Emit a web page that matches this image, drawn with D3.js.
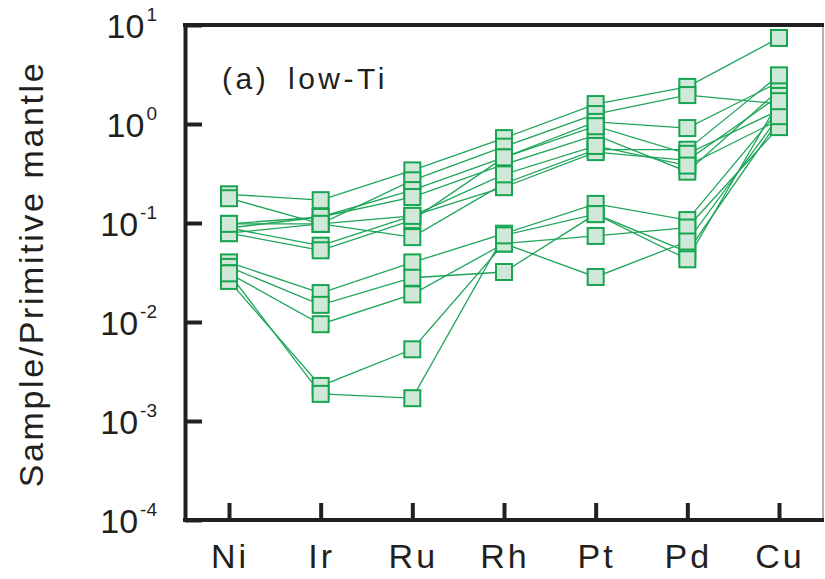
<!DOCTYPE html>
<html>
<head>
<meta charset="utf-8">
<script src="https://cdn.jsdelivr.net/npm/d3@7"></script>
<style>
  html, body { margin: 0; padding: 0; background: #fff; }
  svg { display: block; font-family: "Liberation Sans", Arial, sans-serif; }
</style>
</head>
<body>
<svg id="chart" width="825" height="579"></svg>
<script>
// Chalcophile element order (x axis)
const elements = ["Ni", "Ir", "Ru", "Rh", "Pt", "Pd", "Cu"];

// Primitive-mantle-normalised values, one array per low-Ti sample
const sample01 = [0.195, 0.17, 0.34, 0.72, 1.59, 2.37, 7.4];
const sample02 = [0.178, 0.098, 0.27, 0.59, 1.26, 1.96, 1.6];
const sample03 = [0.089, 0.115, 0.215, 0.46, 1.05, 0.91, 2.65];
const sample04 = [0.098, 0.115, 0.183, 0.39, 0.77, 0.33, 2.2];
const sample05 = [0.079, 0.098, 0.072, 0.25, 0.55, 0.55, 3.1];
const sample06 = [0.089, 0.059, 0.118, 0.23, 0.52, 0.43, 1.92];
const sample07 = [0.079, 0.053, 0.107, 0.46, 0.95, 0.5, 1.38];
const sample08 = [0.098, 0.098, 0.118, 0.31, 0.6, 0.38, 1.1];
const sample09 = [0.040, 0.0196, 0.040, 0.078, 0.156, 0.107, 1.38];
const sample10 = [0.036, 0.0149, 0.028, 0.032, 0.123, 0.051, 1.1];
const sample11 = [0.031, 0.0095, 0.019, 0.062, 0.074, 0.090, 0.93];
const sample12 = [0.026, 0.00226, 0.0053, 0.062, 0.0285, 0.065, 1.2];
const sample13 = [0.031, 0.00188, 0.0017, 0.075, 0.123, 0.043, 1.7];

const samples = [sample01, sample02, sample03, sample04, sample05, sample06, sample07,
                 sample08, sample09, sample10, sample11, sample12, sample13];

// Decade ticks on the log axis
const tickValues = [1e-4, 1e-3, 1e-2, 1e-1, 1, 10];
const tickExponents = ["-4", "-3", "-2", "-1", "0", "1"];

const panelLabel = "(a) low-Ti";
const yTitle = "Sample/Primitive mantle";

const svg = d3.select("#chart");
const plotLeft = 185, plotRight = 823, plotTop = 25, plotBottom = 520;
const ink = "#231f20";

const x = d3.scalePoint().domain(elements).range([plotLeft, plotRight]).padding(0.48);
const y = d3.scaleLog().domain([1e-4, 10]).range([plotBottom, plotTop]);

const lineColor = "#1fa55a";
const markerStroke = "#18a551";
const markerFill = "#cfe8d8";

// Sample profiles
const line = d3.line()
  .x((d, i) => x(elements[i]))
  .y(d => y(d));

svg.append("g")
  .selectAll("path")
  .data(samples)
  .join("path")
  .attr("d", line)
  .attr("fill", "none")
  .attr("stroke", lineColor)
  .attr("stroke-width", 1.3);

// Square markers
const size = 16;
svg.append("g")
  .selectAll("g")
  .data(samples)
  .join("g")
  .selectAll("rect")
  .data(d => d.map((v, i) => ({ el: elements[i], v })))
  .join("rect")
  .attr("x", d => x(d.el) - size / 2)
  .attr("y", d => y(d.v) - size / 2)
  .attr("width", size)
  .attr("height", size)
  .attr("fill", markerFill)
  .attr("stroke", markerStroke)
  .attr("stroke-width", 2);

// Frame: thin right edge, heavy top
svg.append("line")
  .attr("x1", plotRight).attr("x2", plotRight).attr("y1", plotTop).attr("y2", plotBottom)
  .attr("stroke", "#9a9a9a").attr("stroke-width", 1.5);
svg.append("line")
  .attr("x1", plotLeft - 2).attr("x2", plotRight + 1).attr("y1", plotTop).attr("y2", plotTop)
  .attr("stroke", ink).attr("stroke-width", 4);

// Left axis, ticks pointing inward
const yAxis = svg.append("g")
  .attr("transform", `translate(${plotLeft},0)`)
  .call(d3.axisLeft(y).tickValues(tickValues).tickSizeInner(-17).tickSizeOuter(0).tickFormat(""));
yAxis.select(".domain").attr("stroke", ink).attr("stroke-width", 4);
yAxis.selectAll(".tick line").attr("stroke", ink).attr("stroke-width", 4);

// Bottom axis, ticks pointing inward
const xAxis = svg.append("g")
  .attr("transform", `translate(0,${plotBottom})`)
  .call(d3.axisBottom(x).tickSizeInner(-17).tickSizeOuter(0).tickFormat(""));
xAxis.select(".domain").attr("stroke", ink).attr("stroke-width", 4)
  .attr("d", `M${plotLeft - 2},0H${plotRight + 1}`);
xAxis.selectAll(".tick line").attr("stroke", ink).attr("stroke-width", 4);

// Power-of-ten tick labels
const yLabels = svg.append("g").attr("fill", ink);
tickValues.forEach((v, i) => {
  const t = yLabels.append("text")
    .attr("x", 157)
    .attr("y", y(v) + 13)
    .attr("text-anchor", "end");
  t.append("tspan").attr("font-size", 34).text("10");
  t.append("tspan").attr("font-size", 19).attr("dx", 2).attr("dy", -17).text(tickExponents[i]);
});

// Element labels
svg.append("g")
  .selectAll("text")
  .data(elements)
  .join("text")
  .attr("x", d => x(d) + 1)
  .attr("y", 568)
  .attr("text-anchor", "middle")
  .attr("font-size", 34)
  .attr("letter-spacing", 3)
  .attr("fill", ink)
  .text(d => d);

// Axis title
svg.append("text")
  .attr("transform", "translate(43,274) rotate(-90)")
  .attr("text-anchor", "middle")
  .attr("font-size", 34)
  .attr("letter-spacing", 2.6)
  .attr("fill", ink)
  .text(yTitle);

// Panel label
svg.append("text")
  .attr("x", 222)
  .attr("y", 89)
  .attr("font-size", 30)
  .attr("letter-spacing", 3.5)
  .attr("word-spacing", 7)
  .attr("fill", ink)
  .text(panelLabel);
</script>
</body>
</html>
